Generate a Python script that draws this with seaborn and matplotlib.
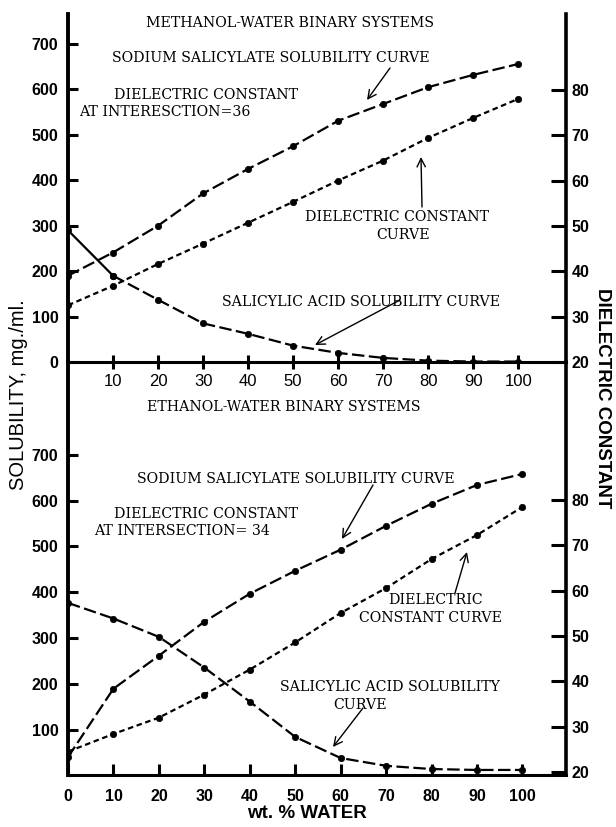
import matplotlib
matplotlib.use("Agg")
import matplotlib.pyplot as plt
import seaborn as sns
import pandas as pd

# ---------------- data ----------------
water_pct = [0, 10, 20, 30, 40, 50, 60, 70, 80, 90, 100]

methanol_sodium_salicylate = [190, 241, 300, 371, 425, 475, 531, 568, 605, 632, 656]
methanol_dielectric = [32.5, 36.8, 41.6, 46.1, 50.7, 55.3, 60.0, 64.4, 69.4, 73.8, 78.0]
methanol_salicylic_acid = [290, 190, 137, 85, 62, 36, 20, 9, 3, 1, 1]

ethanol_sodium_salicylate = [41, 190, 262, 336, 397, 447, 493, 545, 593, 634, 658]
ethanol_dielectric = [24.5, 28.4, 32.0, 37.1, 42.6, 48.6, 55.1, 60.6, 67.0, 72.3, 78.5]
ethanol_salicylic_acid = [377, 343, 303, 236, 162, 85, 39, 22, 15, 13, 13]

sol_ticks_top = [0, 100, 200, 300, 400, 500, 600, 700]
sol_ticks_bottom = [100, 200, 300, 400, 500, 600, 700]
diel_ticks = [20, 30, 40, 50, 60, 70, 80]
x_ticks_top = [10, 20, 30, 40, 50, 60, 70, 80, 90, 100]
x_ticks_bottom = [0, 10, 20, 30, 40, 50, 60, 70, 80, 90, 100]

# ---------------- style ----------------
sns.set_theme(style="ticks")
plt.rcParams['font.family'] = ['Liberation Sans', 'DejaVu Sans']
plt.rcParams['lines.scale_dashes'] = False
plt.rcParams['text.color'] = 'black'

W, H = 616, 827
fig = plt.figure(figsize=(W / 100, H / 100), dpi=100)
fig.patch.set_facecolor('white')


def fx(px):
    return px / W


def fy(py):
    return 1 - py / H


L, R = 68, 566
ax_top = fig.add_axes([fx(L), fy(362), fx(R) - fx(L), fy(14) - fy(362)])
ax_bot = fig.add_axes([fx(L), fy(775), fx(R) - fx(L), fy(362) - fy(775)])
ax_top2 = ax_top.twinx()
ax_bot2 = ax_bot.twinx()

long_dash = (0, (9, 3.2))
short_dash = (0, (4, 2.6))
kw = dict(color='black', marker='o', markersize=4.6, linewidth=1.6,
          markeredgecolor='black', markeredgewidth=0.5, legend=False)

df_m = pd.DataFrame({'water': water_pct, 'sodium': methanol_sodium_salicylate,
                     'diel': methanol_dielectric, 'acid': methanol_salicylic_acid})
df_e = pd.DataFrame({'water': water_pct, 'sodium': ethanol_sodium_salicylate,
                     'diel': ethanol_dielectric, 'acid': ethanol_salicylic_acid})

# top panel (methanol)
sns.lineplot(data=df_m, x='water', y='sodium', ax=ax_top, linestyle=long_dash, **kw)
sns.lineplot(data=df_m.iloc[:2], x='water', y='acid', ax=ax_top, linestyle='-', **kw)
sns.lineplot(data=df_m.iloc[1:], x='water', y='acid', ax=ax_top, linestyle=long_dash, **kw)
sns.lineplot(data=df_m, x='water', y='diel', ax=ax_top2, linestyle=short_dash, **kw)

# bottom panel (ethanol)
sns.lineplot(data=df_e, x='water', y='sodium', ax=ax_bot, linestyle=long_dash, **kw)
sns.lineplot(data=df_e, x='water', y='acid', ax=ax_bot, linestyle=long_dash, **kw)
sns.lineplot(data=df_e, x='water', y='diel', ax=ax_bot2, linestyle=short_dash, **kw)

# ---------------- axes ----------------
ax_top.set_xlim(0, 110.6)
ax_top.set_ylim(0, 766)
ax_top2.set_ylim(20, 96.7)
ax_bot.set_xlim(0, 109.6)
ax_bot.set_ylim(2, 902)
ax_bot2.set_ylim(19.34, 110.5)

sans = ['Liberation Sans', 'DejaVu Sans']
tick_font = dict(family=sans, weight='bold', size=11.5, color='black')

for ax, ax2, yt, xt in [(ax_top, ax_top2, sol_ticks_top, x_ticks_top),
                        (ax_bot, ax_bot2, sol_ticks_bottom, x_ticks_bottom)]:
    ax.set_facecolor('none')
    ax2.set_facecolor('none')
    ax.set_xlabel('')
    ax.set_ylabel('')
    ax2.set_ylabel('')
    ax.set_yticks(yt)
    ax.set_yticklabels([str(v) for v in yt], fontdict=tick_font)
    ax2.set_yticks(diel_ticks)
    ax2.set_yticklabels([str(v) for v in diel_ticks], fontdict=tick_font)
    ax.set_xticks(xt)
    for sp in ax.spines.values():
        sp.set_color('black')
    ax.spines['top'].set_visible(False)
    ax.spines['right'].set_visible(False)
    ax.spines['left'].set_linewidth(2.8)
    ax.spines['bottom'].set_linewidth(2.2)
    for name in ['top', 'left', 'bottom']:
        ax2.spines[name].set_visible(False)
    ax2.spines['right'].set_color('black')
    ax2.spines['right'].set_linewidth(2.6)
    ax.tick_params(axis='y', direction='in', length=7, width=2.2, pad=7, colors='black')
    ax2.tick_params(axis='y', direction='in', length=11, width=2.2, pad=4, colors='black')
    ax.grid(False)
    ax2.grid(False)

ax_top.set_xticklabels([str(v) for v in x_ticks_top],
                       fontdict=dict(family=sans, size=12, color='black'))
ax_top.tick_params(axis='x', direction='inout', length=10, width=2.2, pad=4, colors='black')
ax_bot.set_xticklabels([str(v) for v in x_ticks_bottom], fontdict=tick_font)
ax_bot.tick_params(axis='x', direction='in', length=8, width=2.2, pad=10, colors='black')

# axis titles
fig.text(fx(19), fy(395), 'SOLUBILITY, mg./ml.', rotation=90, ha='center', va='center',
         fontsize=14.5, family=sans, color='black')
fig.text(fx(602), fy(398), 'DIELECTRIC CONSTANT', rotation=-90, ha='center', va='center',
         fontsize=13.5, fontweight='bold', family=sans, color='black')
fig.text(fx(307), fy(814), 'wt. % WATER', ha='center', va='center',
         fontsize=13.5, fontweight='bold', family=sans, color='black')

# ---------------- annotations ----------------
serif = ['DejaVu Serif', 'DejaVu Sans']
notes = [
    ('METHANOL-WATER BINARY SYSTEMS', 137, 443, 23),
    ('SODIUM SALICYLATE SOLUBILITY CURVE', 101, 440, 58),
    ('DIELECTRIC CONSTANT', 110, 303, 95),
    ('AT INTERESCTION=36', 78, 252, 112),
    ('DIELECTRIC CONSTANT', 302, 492, 217),
    ('CURVE', 381, 425, 235),
    ('SALICYLIC ACID SOLUBILITY CURVE', 212, 511, 302),
    ('ETHANOL-WATER BINARY SYSTEMS', 138, 430, 407),
    ('SODIUM SALICYLATE SOLUBILITY CURVE', 109, 482, 479),
    ('DIELECTRIC CONSTANT', 110, 303, 514),
    ('AT INTERSECTION= 34', 93, 270, 531),
    ('DIELECTRIC', 385, 485, 600),
    ('CONSTANT CURVE', 356, 505, 618),
    ('SALICYLIC ACID SOLUBILITY', 272, 508, 687),
    ('CURVE', 338, 382, 705),
]
for s, x0, x1, y in notes:
    fig.text(fx((x0 + x1) / 2), fy(y), s, ha='center', va='center', fontsize=10.2,
             family=serif, color='black')

arrows = [
    ((390, 68), (367, 100)),
    ((422, 207), (421, 157)),
    ((400, 300), (315, 345)),
    ((373, 485), (342, 539)),
    ((455, 593), (467, 552)),
    ((363, 708), (333, 747)),
]
for (x0, y0), (x1, y1) in arrows:
    fig.add_artist(matplotlib.patches.FancyArrowPatch(
        (fx(x0), fy(y0)), (fx(x1), fy(y1)), transform=fig.transFigure,
        arrowstyle='->,head_length=6,head_width=3', lw=1.0, color='black',
        shrinkA=0, shrinkB=0))

fig.savefig('out.png', dpi=100, facecolor='white')
